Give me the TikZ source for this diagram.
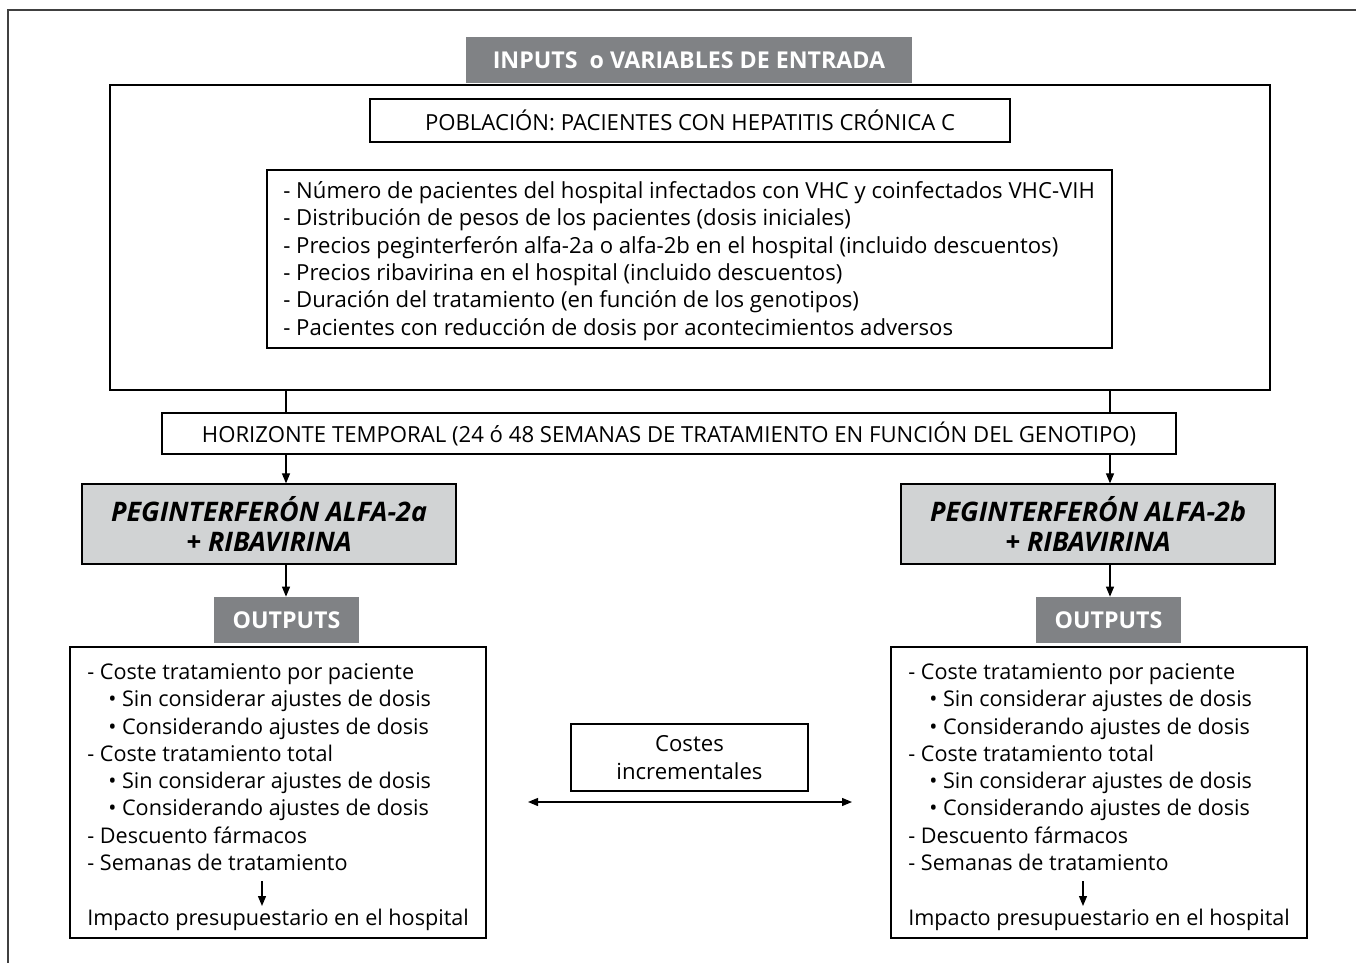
\documentclass[tikz,border=0pt]{standalone}
\usepackage{fontspec}
\setmainfont{Open Sans}
\usetikzlibrary{positioning,arrows.meta}
\definecolor{hdrgray}{RGB}{128,130,133}
\definecolor{druggray}{RGB}{209,211,212}

\newcommand{\bul}{\hspace*{0.42cm}\textbullet\ }

\tikzset{
  box/.style={draw, line width=0.7pt, inner sep=0pt},
  hdr/.style={fill=hdrgray, text=white, inner sep=0pt, font=\fontsize{13.2}{15}\selectfont\bfseries},
  drug/.style={box, fill=druggray, align=center, font=\fontsize{15.3}{17}\selectfont\bfseries\itshape},
  txt/.style={font=\fontsize{12.6}{15.6}\selectfont, align=left, inner sep=0pt},
  outtxt/.style={txt, font=\fontsize{12.3}{15.5}\selectfont},
  arr/.style={line width=0.7pt, -{Triangle[length=0.2cm, width=0.16cm]}}
}

\begin{document}
\begin{tikzpicture}
\useasboundingbox (0,0) rectangle (27.12,-19.26);
% frame
\draw [line width=0.7pt, black!75](27.12,-0.2)--(0.16,-0.2)--(0.16,-19.26);

% inputs
\node [box, minimum width=23.2cm, minimum height=6.1cm] (inbox) at (13.8,-4.75) {};
\node [hdr, minimum width=8.92cm, minimum height=0.92cm] (inhdr) at (13.78,-1.2) {INPUTS\ \ o VARIABLES DE ENTRADA};
\node [box, txt, minimum width=12.8cm, minimum height=0.86cm, align=center] (pob) at (13.8,-2.41) {POBLACIÓN: PACIENTES CON HEPATITIS CRÓNICA C};
\node [box, minimum width=16.9cm, minimum height=3.56cm] (varbox) at (13.79,-5.18) {};
\node [txt, anchor=west] (vars) at (5.66,-5.22) {- Número de pacientes del hospital infectados con VHC y coinfectados VHC-VIH\\
- Distribución de pesos de los pacientes (dosis iniciales)\\
- Precios peginterferón alfa-2a o alfa-2b en el hospital (incluido descuentos)\\
- Precios ribavirina en el hospital (incluido descuentos)\\
- Duración del tratamiento (en función de los genotipos)\\
- Pacientes con reducción de dosis por acontecimientos adversos};

% horizon
\node [box, txt, minimum width=20.28cm, minimum height=0.82cm, align=center] (hor) at (13.38,-8.67) {HORIZONTE TEMPORAL (24 ó 48 SEMANAS DE TRATAMIENTO EN FUNCIÓN DEL GENOTIPO)};

% treatments
\node [drug, minimum width=7.48cm, minimum height=1.6cm] (drugA) at (5.38,-10.48) {PEGINTERFERÓN ALFA-2a\\+ RIBAVIRINA};
\node [drug, minimum width=7.48cm, minimum height=1.6cm] (drugB) at (21.76,-10.48) {PEGINTERFERÓN ALFA-2b\\+ RIBAVIRINA};

\node [hdr, minimum width=2.9cm, minimum height=0.92cm] (outA) at (5.73,-12.4) {OUTPUTS};
\node [hdr, minimum width=2.9cm, minimum height=0.92cm] (outB) at (22.17,-12.4) {OUTPUTS};

\coordinate (colA) at (5.72,0);
\coordinate (colB) at (22.2,0);
\draw [line width=0.7pt] (inbox.south -| colA) -- (hor.north -| colA);
\draw [line width=0.7pt] (inbox.south -| colB) -- (hor.north -| colB);
\draw [arr] (hor.south -| colA) -- (drugA.north -| colA);
\draw [arr] (hor.south -| colB) -- (drugB.north -| colB);
\draw [arr] (drugA.south -| colA) -- (outA.north -| colA);
\draw [arr] (drugB.south -| colB) -- (outB.north -| colB);

% outputs
\node [box, minimum width=8.32cm, minimum height=5.82cm] (resA) at (5.56,-15.85) {};
\node [box, minimum width=8.32cm, minimum height=5.82cm] (resB) at (21.98,-15.85) {};
\foreach \side/\x in {A/1.74, B/18.16}{
  \node [outtxt, anchor=north west] (list\side) at (\x,-13.27) {- Coste tratamiento por paciente\\
  \bul Sin considerar ajustes de dosis\\
  \bul Considerando ajustes de dosis\\
  - Coste tratamiento total\\
  \bul Sin considerar ajustes de dosis\\
  \bul Considerando ajustes de dosis\\
  - Descuento fármacos\\
  - Semanas de tratamiento};
  \node [outtxt, anchor=west] (imp\side) at (\x,-18.4) {Impacto presupuestario en el hospital};
}
\draw [arr] (5.24,-17.62) -- (5.24,-18.12);
\draw [arr] (21.66,-17.62) -- (21.66,-18.12);

% incremental
\node [box, txt, minimum width=4.74cm, minimum height=1.34cm, align=center] (inc) at (13.79,-15.15) {Costes\\incrementales};
\coordinate (incL) at (10.56,-16.04);
\coordinate (incR) at (17.04,-16.04);
\draw [line width=0.7pt, {Triangle[length=0.2cm, width=0.16cm]}-{Triangle[length=0.2cm, width=0.16cm]}] (incL) -- (incR);

\end{tikzpicture}
\end{document}
